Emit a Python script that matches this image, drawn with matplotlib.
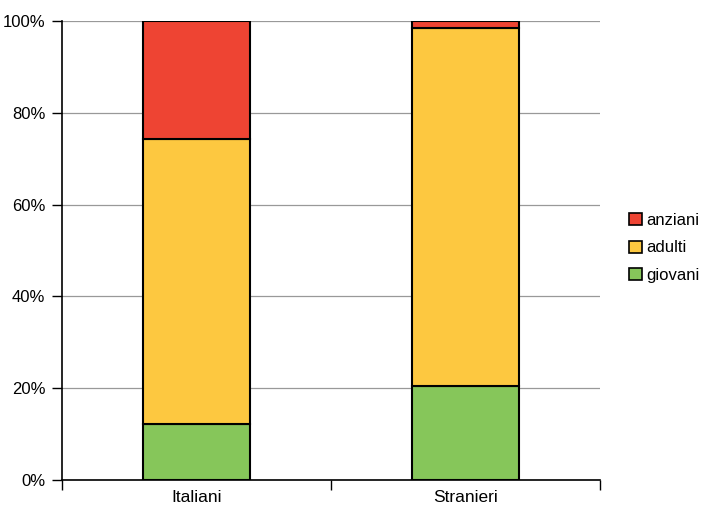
import matplotlib
matplotlib.use("Agg")
import matplotlib.pyplot as plt
import numpy as np
from matplotlib.patches import Patch

categories = ["Italiani", "Stranieri"]
giovani = [12.2, 20.5]
adulti = [62.0, 78.0]
anziani = [25.8, 1.5]
series_names = ["giovani", "adulti", "anziani"]
colors = {"giovani": "#86C65A", "adulti": "#FDC840", "anziani": "#EE4433"}

plt.rcParams['font.family'] = ['Liberation Sans', 'DejaVu Sans']

fig = plt.figure(figsize=(7.08, 5.15), dpi=100)
ax = fig.add_axes([62/708, 35/515, 538/708, 459/515])

x = np.arange(len(categories))
bottom = np.zeros(len(categories))
for name, vals in zip(series_names, [giovani, adulti, anziani]):
    ax.bar(x, vals, width=0.4, bottom=bottom, color=colors[name],
           edgecolor="black", linewidth=1.5, zorder=3)
    bottom += np.array(vals)

ax.set_xlim(-0.5, 1.5)
ax.set_ylim(0, 100)
ax.set_yticks([0, 20, 40, 60, 80, 100])
ax.set_yticklabels([f"{v}%" for v in [0, 20, 40, 60, 80, 100]])
ax.yaxis.grid(True, color="#999999", linewidth=0.9, zorder=0)
ax.set_axisbelow(True)

ax.set_xticks([-0.5, 0.5, 1.5])
ax.set_xticklabels([])
ax.set_xticks(x, minor=True)
ax.set_xticklabels(categories, minor=True)
ax.tick_params(axis="x", which="minor", length=0, pad=7, labelsize=12.5)
ax.tick_params(axis="x", which="major", length=7, width=1, direction="out")
ax.tick_params(axis="y", length=7, width=1, direction="out", labelsize=12, pad=5)

for s in ["top", "right"]:
    ax.spines[s].set_visible(False)
ax.spines["left"].set_linewidth(1.2)
ax.spines["bottom"].set_linewidth(1.2)

handles = [Patch(facecolor=colors[n], edgecolor="black", linewidth=1.2, label=n)
           for n in ["anziani", "adulti", "giovani"]]
fig.legend(handles=handles, loc="center left", bbox_to_anchor=(629/708, 1 - 248/515),
           frameon=False, fontsize=12, handlelength=0.75, handleheight=0.75,
           handletextpad=0.3, labelspacing=0.75, borderaxespad=0, borderpad=0)

fig.savefig("out.png", dpi=100)
